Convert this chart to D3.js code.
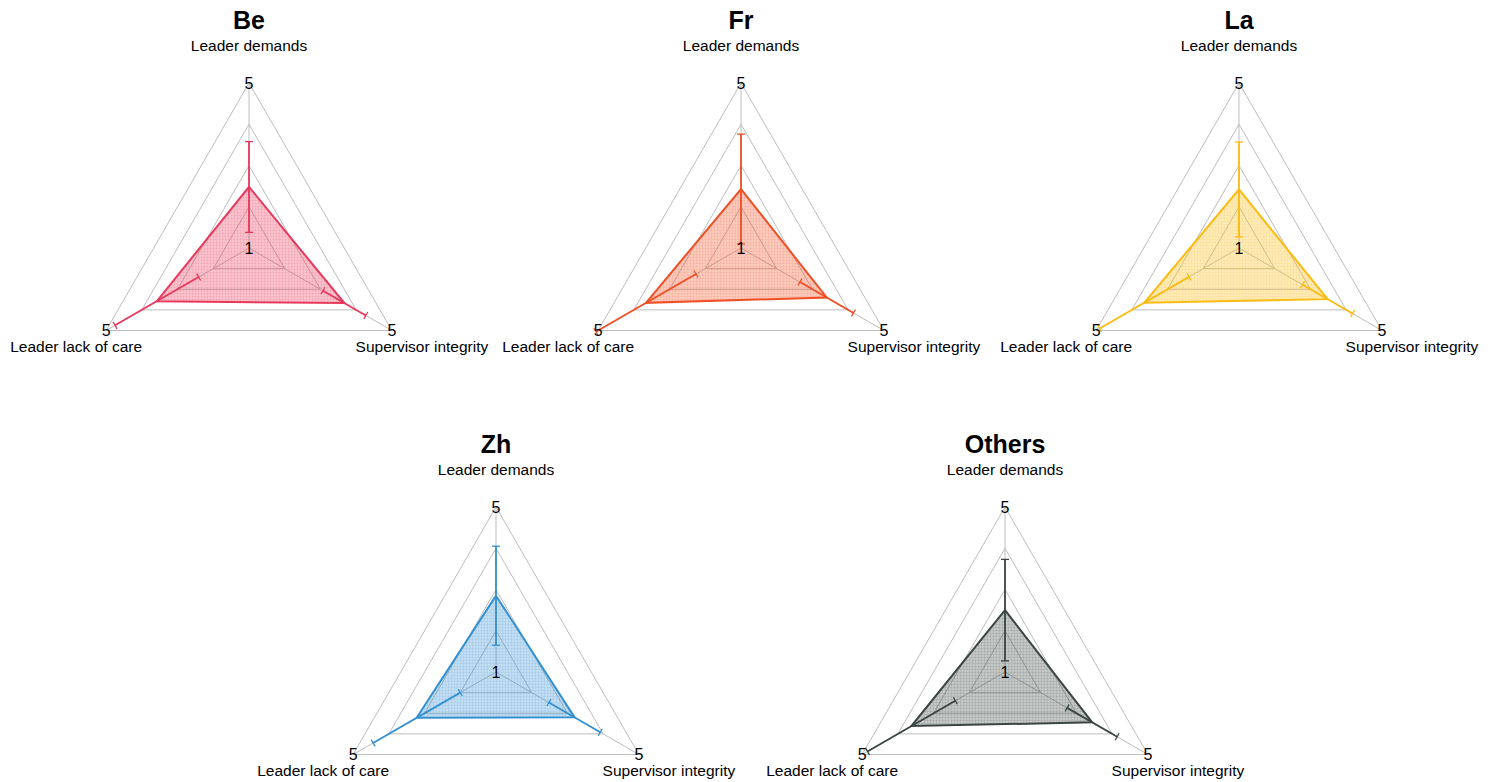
<!DOCTYPE html>
<html lang="en">
<head>
<meta charset="utf-8">
<script src="https://cdn.jsdelivr.net/npm/d3@7"></script>
<style>
  body { margin: 0; background: #fff; }
  svg { display: block; font-family: "Liberation Sans", Arial, sans-serif; }
</style>
</head>
<body>
<script>
  // axes go clockwise from the top
  const axes = ['Leader demands', 'Supervisor integrity', 'Leader lack of care']
  const groups = ['Be', 'Fr', 'La', 'Zh', 'Others']
  const colors = ['#e8385b', '#f04f26', '#fbbb12', '#3590d2', '#3a4644']

  // mean and sd per group, same order as axes
  const means = [
    [2.48, 3.67, 3.58],
    [2.43, 3.40, 3.66],
    [2.42, 3.48, 3.65],
    [2.85, 3.20, 3.22],
    [2.50, 3.44, 3.62]
  ]
  const sds = [
    [1.10, 0.60, 1.17],
    [1.33, 0.75, 1.40],
    [1.15, 0.70, 1.25],
    [1.20, 0.72, 1.22],
    [1.23, 0.70, 1.23]
  ]
  const levels = [2, 3, 4, 5]

  const w = 1492
  const h = 782
  const R = 165
  const centers = [[249, 248], [741, 248], [1239, 248], [496, 672], [1005, 672]]

  const r = d3.scaleLinear().domain([1, 5]).range([0, R])
  const angle = i => -Math.PI / 2 + i * 2 * Math.PI / 3
  const pt = (i, v) => [r(v) * Math.cos(angle(i)), r(v) * Math.sin(angle(i))]

  const svg = d3.select('body')
    .append('svg')
    .attr('width', w)
    .attr('height', h)

  const defs = svg.append('defs')
  groups.forEach(function(g, k) {
    const p = defs.append('pattern')
      .attr('id', 'fill' + k)
      .attr('patternUnits', 'userSpaceOnUse')
      .attr('width', 3)
      .attr('height', 3)
    p.append('rect').attr('width', 3).attr('height', 3)
      .attr('fill', colors[k]).attr('fill-opacity', 0.3)
    p.append('path').attr('d', 'M0 0.5H3M0.5 0V3')
      .attr('stroke', colors[k]).attr('stroke-opacity', 0.1).attr('stroke-width', 1)
  })

  const line = d3.line()

  groups.forEach(function(g, k) {
    const panel = svg.append('g')
      .attr('transform', 'translate(' + centers[k][0] + ',' + centers[k][1] + ')')

    // grid rings
    panel.selectAll('.ring')
      .data(levels)
      .enter()
      .append('path')
      .attr('d', v => line(axes.map((a, i) => pt(i, v))) + 'Z')
      .attr('fill', 'none')
      .attr('stroke', '#bdbdbd')
      .attr('stroke-width', 1)

    // spokes
    panel.selectAll('.spoke')
      .data(axes)
      .enter()
      .append('line')
      .attr('x1', 0).attr('y1', 0)
      .attr('x2', (a, i) => pt(i, 5)[0])
      .attr('y2', (a, i) => pt(i, 5)[1])
      .attr('stroke', '#bdbdbd')
      .attr('stroke-width', 1)

    // values area
    const poly = means[k].map((v, i) => pt(i, v))
    panel.append('path')
      .attr('d', line(poly) + 'Z')
      .attr('fill', 'url(#fill' + k + ')')
      .attr('stroke', colors[k])
      .attr('stroke-width', 2)
      .attr('stroke-linejoin', 'miter')

    // error bars
    means[k].forEach(function(m, i) {
      const lo = pt(i, m - sds[k][i])
      const hi = pt(i, m + sds[k][i])
      panel.append('line')
        .attr('x1', lo[0]).attr('y1', lo[1])
        .attr('x2', hi[0]).attr('y2', hi[1])
        .attr('stroke', colors[k])
        .attr('stroke-width', 1.8)
      const px = -Math.sin(angle(i)) * 4
      const py = Math.cos(angle(i)) * 4
      ;[lo, hi].forEach(function(e) {
        panel.append('line')
          .attr('x1', e[0] - px).attr('y1', e[1] - py)
          .attr('x2', e[0] + px).attr('y2', e[1] + py)
          .attr('stroke', colors[k])
          .attr('stroke-width', 1.3)
      })
    })

    // tick labels
    panel.append('text')
      .attr('x', 0).attr('y', 0)
      .attr('text-anchor', 'middle')
      .attr('dy', '0.35em')
      .style('font-size', '16px')
      .text('1')
    axes.forEach(function(a, i) {
      const p = pt(i, 5)
      panel.append('text')
        .attr('x', p[0]).attr('y', p[1])
        .attr('text-anchor', 'middle')
        .attr('dy', '0.35em')
        .style('font-size', '16px')
        .text('5')
    })

    // axis names
    panel.append('text')
      .attr('x', 0).attr('y', -R - 37)
      .attr('text-anchor', 'middle')
      .attr('dy', '0.35em')
      .style('font-size', '15.5px')
      .text(axes[0])
    const br = pt(1, 5)
    panel.append('text')
      .attr('x', br[0] + 30).attr('y', br[1] + 16)
      .attr('text-anchor', 'middle')
      .attr('dy', '0.35em')
      .style('font-size', '15.5px')
      .text(axes[1])
    const bl = pt(2, 5)
    panel.append('text')
      .attr('x', bl[0] - 30).attr('y', bl[1] + 16)
      .attr('text-anchor', 'middle')
      .attr('dy', '0.35em')
      .style('font-size', '15.5px')
      .text(axes[2])

    // title
    panel.append('text')
      .attr('x', 0).attr('y', -R - 63)
      .attr('text-anchor', 'middle')
      .attr('dy', '0.35em')
      .style('font-size', '25px')
      .style('font-weight', 'bold')
      .text(g)
  })
</script>
</body>
</html>
